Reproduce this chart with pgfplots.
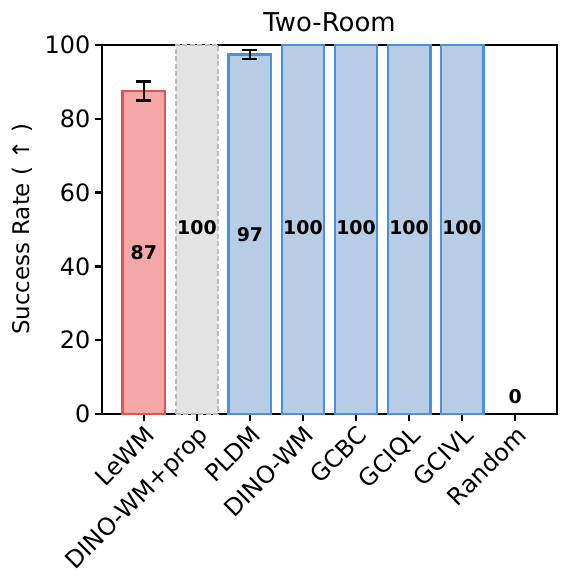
\documentclass[border=0pt]{standalone}
\usepackage{fontspec}
\setmainfont{DejaVu Sans}
\usepackage{pgfplots}
\pgfplotsset{compat=1.18}

\definecolor{redfill}{HTML}{F4A7A7}
\definecolor{rededge}{HTML}{E8504A}
\definecolor{bluefill}{HTML}{B7CDE5}
\definecolor{blueedge}{HTML}{4A90DC}
\definecolor{grayfill}{HTML}{E3E3E3}
\definecolor{grayedge}{HTML}{BDBDBD}

\begin{document}
\begin{tikzpicture}
\begin{axis}[
    scale only axis,
    width=455bp,
    height=369bp,
    xmin=-0.79, xmax=7.79,
    ymin=0, ymax=100,
    ytick={0,20,40,60,80,100},
    xtick={0,1,2,3,4,5,6,7},
    xticklabels={LeWM, DINO-WM+prop, PLDM, DINO-WM, GCBC, GCIQL, GCIVL, Random},
    x tick label style={rotate=45, anchor=north east, inner sep=1bp, font=\fontsize{24}{28}\selectfont},
    y tick label style={font=\fontsize{24}{28}\selectfont},
    /pgf/number format/assume math mode=true,
    tick align=outside,
    major tick length=7bp,
    tick style={line width=2.5bp, black},
    line width=2.8bp,
    axis line style={line width=2.8bp},
    xtick pos=bottom, ytick pos=left,
    ylabel={Success Rate ( ↑ )},
    ylabel style={font=\fontsize{23}{27}\selectfont, at={(axis description cs:0,0.5)}, anchor=center, yshift=80bp},
    title={Two-Room},
    title style={font=\fontsize{26}{31}\selectfont, yshift=2bp},
    ybar,
    bar width=0.8,
    clip=false,
]
\addplot[bar shift=0pt, fill=redfill, draw=rededge, line width=2.5bp,
    error bars/.cd, y dir=both, y explicit,
    error bar style={line width=2.6bp, black},
    error mark options={rotate=90, mark size=7.5bp, line width=2.6bp, black}]
    coordinates {(0,87.5) +- (0,2.6)};
\addplot[bar shift=0pt, fill=grayfill, draw=grayedge, dash pattern=on 5bp off 2.5bp, line width=1.8bp]
    coordinates {(1,100)};
\addplot[bar shift=0pt, fill=bluefill, draw=blueedge, line width=2.5bp,
    error bars/.cd, y dir=both, y explicit,
    error bar style={line width=2.6bp, black},
    error mark options={rotate=90, mark size=7.5bp, line width=2.6bp, black}]
    coordinates {(2,97.4) +- (0,1.2)};
\addplot[bar shift=0pt, fill=bluefill, draw=blueedge, line width=2.5bp]
    coordinates {(3,100) (4,100) (5,100) (6,100)};
\addplot[only marks, mark=none, nodes near coords, point meta=explicit symbolic,
    nodes near coords style={anchor=center, font=\fontsize{19}{21}\bfseries\selectfont, black}]
    coordinates {(0,43.75)[87] (1,50.4)[100] (2,48.7)[97] (3,50.4)[100] (4,50.4)[100] (5,50.4)[100] (6,50.4)[100] (7,4.6)[0]};
\end{axis}
\pgfresetboundingbox
\path ([shift={(-102bp,-162bp)}]current axis.south west) rectangle ([shift={(19bp,45bp)}]current axis.north east);
\end{tikzpicture}
\end{document}
